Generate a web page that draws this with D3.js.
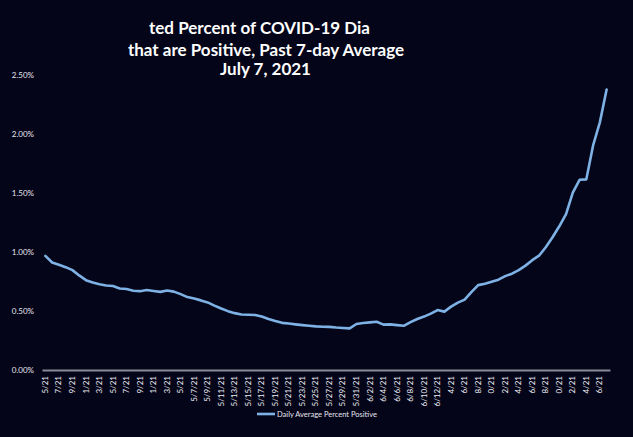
<!DOCTYPE html>
<html><head><meta charset="utf-8">
<script src="https://cdn.jsdelivr.net/npm/d3@7"></script>
<style>
html,body{margin:0;padding:0;background:#05051a;}
svg{display:block;}
</style></head>
<body>
<svg id="chart" width="633" height="437"></svg>
<script>
const titleLines = ["ted Percent of COVID-19 Dia", "that are Positive, Past 7-day Average", "July 7, 2021"];
const seriesName = "Daily Average Percent Positive";
const dates = [
 "4/15/21","4/16/21","4/17/21","4/18/21","4/19/21","4/20/21","4/21/21","4/22/21","4/23/21","4/24/21",
 "4/25/21","4/26/21","4/27/21","4/28/21","4/29/21","4/30/21","5/1/21","5/2/21","5/3/21","5/4/21",
 "5/5/21","5/6/21","5/7/21","5/8/21","5/9/21","5/10/21","5/11/21","5/12/21","5/13/21","5/14/21",
 "5/15/21","5/16/21","5/17/21","5/18/21","5/19/21","5/20/21","5/21/21","5/22/21","5/23/21","5/24/21",
 "5/25/21","5/26/21","5/27/21","5/28/21","5/29/21","5/30/21","5/31/21","6/1/21","6/2/21","6/3/21",
 "6/4/21","6/5/21","6/6/21","6/7/21","6/8/21","6/9/21","6/10/21","6/11/21","6/12/21","6/13/21",
 "6/14/21","6/15/21","6/16/21","6/17/21","6/18/21","6/19/21","6/20/21","6/21/21","6/22/21","6/23/21",
 "6/24/21","6/25/21","6/26/21","6/27/21","6/28/21","6/29/21","6/30/21","7/1/21","7/2/21","7/3/21",
 "7/4/21","7/5/21","7/6/21","7/7/21"
];
const values = [
 0.965,0.91,0.89,0.87,0.845,0.80,0.76,0.74,0.725,0.715,
 0.71,0.69,0.685,0.67,0.667,0.677,0.669,0.661,0.673,0.663,
 0.642,0.617,0.604,0.589,0.572,0.545,0.52,0.498,0.481,0.469,
 0.467,0.465,0.452,0.431,0.414,0.399,0.393,0.386,0.38,0.374,
 0.369,0.366,0.365,0.359,0.355,0.352,0.389,0.397,0.403,0.408,
 0.384,0.386,0.38,0.374,0.405,0.431,0.452,0.477,0.507,0.494,
 0.536,0.57,0.595,0.659,0.718,0.73,0.747,0.764,0.794,0.815,
 0.845,0.883,0.929,0.967,1.039,1.123,1.216,1.318,1.50,1.609,
 1.613,1.90,2.095,2.373
];
const tickLabels = ["5/21","7/21","9/21","1/21","3/21","5/21","7/21","9/21","1/21","3/21","5/21",
 "5/7/21","5/9/21","5/11/21","5/13/21","5/15/21","5/17/21","5/19/21","5/21/21","5/23/21","5/25/21",
 "5/27/21","5/29/21","5/31/21","6/2/21","6/4/21","6/6/21","6/8/21","6/10/21","6/12/21",
 "4/21","6/21","8/21","0/21","2/21","4/21","6/21","8/21","0/21","2/21","4/21","6/21"];
const yTicks = [0, 0.5, 1.0, 1.5, 2.0, 2.5];

const svg = d3.select("#chart");
const FONT = "Lato, 'Open Sans', sans-serif";
svg.append("rect").attr("width",633).attr("height",437).attr("fill","#05051a");

const x = d3.scaleBand().domain(dates).range([42, 610]).padding(0);
const y = d3.scaleLinear().domain([0, 2.5]).range([370, 74.5]);

// title
const titleX = [259.5, 266, 265.5];
const titleY = [34, 56, 75];
titleLines.forEach((t,i)=>{
  svg.append("text").attr("x",titleX[i]).attr("y",titleY[i])
    .attr("text-anchor","middle").attr("fill","#ffffff")
    .style("font-family",FONT).style("font-weight","700").style("font-size","17px")
    .text(t);
});

// y axis
const yAxis = svg.append("g").attr("transform","translate(36,0)")
  .call(d3.axisLeft(y).tickValues(yTicks).tickSize(0).tickFormat(d=>d3.format(".2f")(d)+"%"));
yAxis.select(".domain").remove();
yAxis.selectAll("text").attr("fill","#e6e6ee").attr("x",-2)
  .style("font-family",FONT).style("font-size","8px");

// x axis
const tickDates = dates.filter((d,i)=>i%2===0);
const xAxis = svg.append("g").attr("transform","translate(0,370)")
  .call(d3.axisBottom(x).tickValues(tickDates).tickSize(0)
    .tickFormat(d=>tickLabels[tickDates.indexOf(d)]));
xAxis.select(".domain").attr("stroke","#8a8a96").attr("stroke-width",2);
xAxis.selectAll("text").attr("fill","#f0f0f5")
  .style("font-family",FONT).style("font-size","8px")
  .attr("text-anchor","end").attr("dy","0.32em")
  .attr("transform","rotate(-90)").attr("x",-6).attr("y",0);

// line
const line = d3.line().x((d,i)=>x(dates[i])+x.bandwidth()/2).y(d=>y(d)).curve(d3.curveLinear);
svg.append("path").datum(values).attr("d",line).attr("fill","none")
  .attr("stroke","#7eb2e4").attr("stroke-width",2.6).attr("stroke-linejoin","round").attr("stroke-linecap","round");

// legend
svg.append("line").attr("x1",257).attr("x2",275).attr("y1",414).attr("y2",414)
  .attr("stroke","#7eb2e4").attr("stroke-width",2.6);
svg.append("text").attr("x",277).attr("y",417).attr("fill","#e6e6ee")
  .style("font-family",FONT).style("font-size","7.5px").text(seriesName);
</script>
</body></html>
